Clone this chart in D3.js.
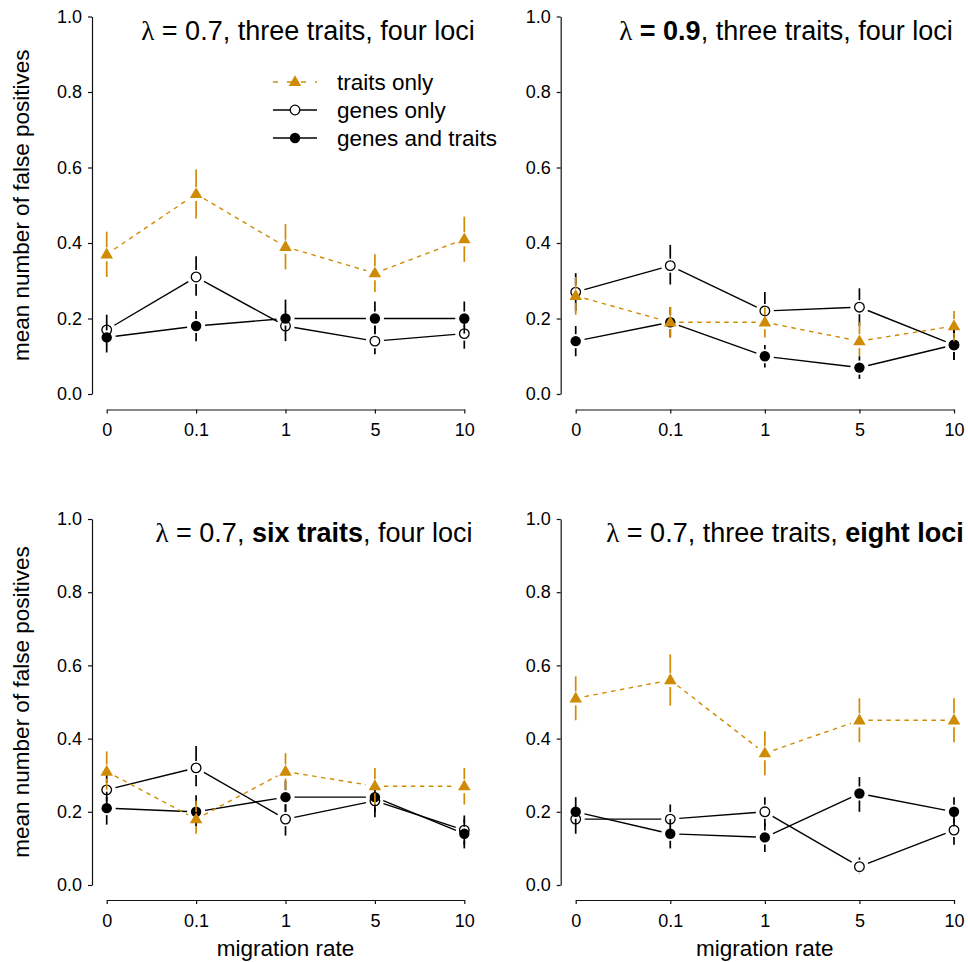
<!DOCTYPE html>
<html>
<head>
<meta charset="utf-8">
<script src="https://cdn.jsdelivr.net/npm/d3@7"></script>
<style>
  body { margin: 0; background: #fff; }
  svg { font-family: "Liberation Sans", Arial, sans-serif; }
  .tick text { font-size: 18px; fill: #000; }
  .tick line, .domain { stroke: #111; stroke-width: 1.2; }
</style>
</head>
<body>
<div id="wrapper"></div>
<script>
// 1. Data: each row is [mean, lower, upper]

const migration = ["0", "0.1", "1", "5", "10"]
const seriesNames = ["traits only", "genes only", "genes and traits"]
const yTicks = [0, 0.2, 0.4, 0.6, 0.8, 1.0]

// panel a: lambda = 0.7, three traits, four loci
const aTraits = [[0.37, 0.31, 0.43], [0.53, 0.465, 0.595], [0.39, 0.33, 0.45], [0.32, 0.27, 0.37], [0.41, 0.35, 0.47]]
const aGenes  = [[0.17, 0.13, 0.21], [0.31, 0.26, 0.365], [0.18, 0.14, 0.22], [0.14, 0.105, 0.18], [0.16, 0.12, 0.20]]
const aBoth   = [[0.15, 0.11, 0.19], [0.18, 0.14, 0.22], [0.20, 0.16, 0.25], [0.20, 0.16, 0.245], [0.20, 0.16, 0.245]]

// panel b: lambda = 0.9
const bTraits = [[0.26, 0.21, 0.31], [0.19, 0.15, 0.23], [0.19, 0.15, 0.23], [0.14, 0.10, 0.19], [0.18, 0.14, 0.22]]
const bGenes  = [[0.27, 0.22, 0.32], [0.34, 0.29, 0.395], [0.22, 0.18, 0.27], [0.23, 0.18, 0.28], [0.13, 0.09, 0.17]]
const bBoth   = [[0.14, 0.10, 0.18], [0.19, 0.15, 0.23], [0.10, 0.07, 0.13], [0.07, 0.04, 0.10], [0.13, 0.09, 0.17]]

// panel c: six traits
const cTraits = [[0.31, 0.26, 0.365], [0.18, 0.14, 0.23], [0.31, 0.26, 0.36], [0.27, 0.22, 0.32], [0.27, 0.22, 0.32]]
const cGenes  = [[0.26, 0.21, 0.31], [0.32, 0.27, 0.38], [0.18, 0.135, 0.22], [0.23, 0.185, 0.28], [0.15, 0.11, 0.19]]
const cBoth   = [[0.21, 0.165, 0.255], [0.20, 0.16, 0.245], [0.24, 0.20, 0.285], [0.24, 0.20, 0.285], [0.14, 0.10, 0.18]]

// panel d: eight loci
const dTraits = [[0.51, 0.45, 0.57], [0.56, 0.49, 0.63], [0.36, 0.30, 0.42], [0.45, 0.39, 0.51], [0.45, 0.39, 0.51]]
const dGenes  = [[0.18, 0.14, 0.22], [0.18, 0.14, 0.22], [0.20, 0.16, 0.24], [0.05, 0.03, 0.075], [0.15, 0.11, 0.19]]
const dBoth   = [[0.20, 0.16, 0.24], [0.14, 0.10, 0.18], [0.13, 0.09, 0.17], [0.25, 0.20, 0.295], [0.20, 0.16, 0.24]]

const orange = "#CF8B05"

// 2. Layout

const dimensions = { width: 968, height: 962 }

const panels = [
  {
    traits: aTraits, genes: aGenes, both: aBoth,
    x0: 106.7, x1: 464.3, axisX: 92, yTop: 16.5, yBot: 394, axisY: 409.5,
    titleX: 308, titleY: 40, legend: true, xLabel: false, yLabel: true,
    title: [["λ", "sym"], [" = 0.7, three traits, four loci", ""]],
  },
  {
    traits: bTraits, genes: bGenes, both: bBoth,
    x0: 575.7, x1: 954, axisX: 560.7, yTop: 16.5, yBot: 394, axisY: 409.5,
    titleX: 786, titleY: 40, legend: false, xLabel: false, yLabel: false,
    title: [["λ", "sym"], [" = 0.9", "bold"], [", three traits, four loci", ""]],
  },
  {
    traits: cTraits, genes: cGenes, both: cBoth,
    x0: 106.7, x1: 464.3, axisX: 92, yTop: 519, yBot: 885, axisY: 900,
    titleX: 314, titleY: 542, legend: false, xLabel: true, yLabel: true,
    title: [["λ", "sym"], [" = 0.7, ", ""], ["six traits", "bold"], [", four loci", ""]],
  },
  {
    traits: dTraits, genes: dGenes, both: dBoth,
    x0: 575.7, x1: 954, axisX: 560.7, yTop: 519, yBot: 885, axisY: 900,
    titleX: 785, titleY: 542, legend: false, xLabel: true, yLabel: false,
    title: [["λ", "sym"], [" = 0.7, three traits, ", ""], ["eight loci", "bold"]],
  },
]

const lineGap = 9     // gap between connecting segments and points (type = "b")
const barGap = 7      // gap between error bars and their own point

// 3. Draw canvas

const svg = d3.select("#wrapper")
  .append("svg")
    .attr("width", dimensions.width)
    .attr("height", dimensions.height)

const triangle = d3.symbol(d3.symbolTriangle, 68)()

function drawPoint(g, cx, cy, kind) {
  if (kind == "traits") {
    g.append("path")
      .attr("d", triangle)
      .attr("transform", `translate(${cx},${cy + 0.5})`)
      .attr("fill", orange)
  } else if (kind == "genes") {
    g.append("circle")
      .attr("cx", cx).attr("cy", cy).attr("r", 4.8)
      .attr("fill", "#fff").attr("stroke", "#000").attr("stroke-width", 1.3)
  } else {
    g.append("circle")
      .attr("cx", cx).attr("cy", cy).attr("r", 5.2)
      .attr("fill", "#000")
  }
}

function drawSeries(g, x, y, rows, kind) {
  const color = kind == "traits" ? orange : "#000"
  const pts = rows.map((r, i) => ({ x: x(migration[i]), y: y(r[0]), hi: y(r[2]), lo: y(r[1]) }))

  // error bars, split around the point
  pts.forEach(p => {
    if (p.hi < p.y - barGap) {
      g.append("line").attr("x1", p.x).attr("x2", p.x)
        .attr("y1", p.y - barGap).attr("y2", p.hi)
        .attr("stroke", color).attr("stroke-width", 1.7)
    }
    if (p.lo > p.y + barGap) {
      g.append("line").attr("x1", p.x).attr("x2", p.x)
        .attr("y1", p.y + barGap).attr("y2", p.lo)
        .attr("stroke", color).attr("stroke-width", 1.7)
    }
  })

  // connecting segments, shortened at both ends
  d3.pairs(pts).forEach(([a, b]) => {
    const dx = b.x - a.x, dy = b.y - a.y
    const len = Math.hypot(dx, dy)
    if (len <= 2 * lineGap) return
    const ux = dx / len, uy = dy / len
    g.append("line")
      .attr("x1", a.x + ux * lineGap).attr("y1", a.y + uy * lineGap)
      .attr("x2", b.x - ux * lineGap).attr("y2", b.y - uy * lineGap)
      .attr("stroke", color)
      .attr("stroke-width", 1.4)
      .attr("stroke-dasharray", kind == "traits" ? "4.5,4.5" : null)
  })

  pts.forEach(p => drawPoint(g, p.x, p.y, kind))
}

// 4. Panels

panels.forEach(p => {
  const g = svg.append("g")

  const xScale = d3.scalePoint()
    .domain(migration)
    .range([p.x0, p.x1])

  const yScale = d3.scaleLinear()
    .domain([0, 1])
    .range([p.yBot, p.yTop])

  g.append("g")
    .attr("transform", `translate(${p.axisX},0)`)
    .call(d3.axisLeft(yScale)
      .tickValues(yTicks)
      .tickFormat(d3.format(".1f"))
      .tickSize(4)
      .tickSizeOuter(0)
      .tickPadding(6))

  g.append("g")
    .attr("transform", `translate(0,${p.axisY})`)
    .call(d3.axisBottom(xScale)
      .tickSize(4)
      .tickSizeOuter(0)
      .tickPadding(10))

  g.selectAll(".tick text").attr("font-family", null)
  g.selectAll(".domain, .tick line").attr("stroke", null)

  // genes only, genes and traits, then traits on top
  drawSeries(g, xScale, yScale, p.genes, "genes")
  drawSeries(g, xScale, yScale, p.both, "both")
  drawSeries(g, xScale, yScale, p.traits, "traits")

  // title with mixed weights
  const title = g.append("text")
    .attr("x", p.titleX)
    .attr("y", p.titleY)
    .attr("text-anchor", "middle")
    .attr("font-size", 27)
    .attr("fill", "#000")
    .attr("xml:space", "preserve")
  p.title.forEach(([t, style]) => {
    title.append("tspan")
      .text(t)
      .attr("font-family", style == "sym" ? "'Liberation Serif', serif" : null)
      .attr("font-weight", style == "bold" ? "bold" : null)
  })

  if (p.yLabel) {
    g.append("text")
      .attr("transform", `translate(29,${(p.yTop + p.yBot) / 2}) rotate(-90)`)
      .attr("text-anchor", "middle")
      .attr("font-size", 22.5)
      .text("mean number of false positives")
  }

  if (p.xLabel) {
    g.append("text")
      .attr("x", (p.x0 + p.x1) / 2)
      .attr("y", 956)
      .attr("text-anchor", "middle")
      .attr("font-size", 22.5)
      .text("migration rate")
  }

  if (p.legend) {
    const legendKinds = ["traits", "genes", "both"]
    const lg = g.append("g")
    legendKinds.forEach((kind, i) => {
      const ly = 82 + i * 28
      lg.append("line")
        .attr("x1", 273).attr("x2", 317)
        .attr("y1", ly).attr("y2", ly)
        .attr("stroke", kind == "traits" ? orange : "#000")
        .attr("stroke-width", 1.3)
        .attr("stroke-dasharray", kind == "traits" ? "5,9" : null)
      drawPoint(lg, 295, ly, kind)
      lg.append("text")
        .attr("x", 337)
        .attr("y", ly + 8)
        .attr("font-size", 22.5)
        .text(seriesNames[i])
    })
  }
})
</script>
</body>
</html>
